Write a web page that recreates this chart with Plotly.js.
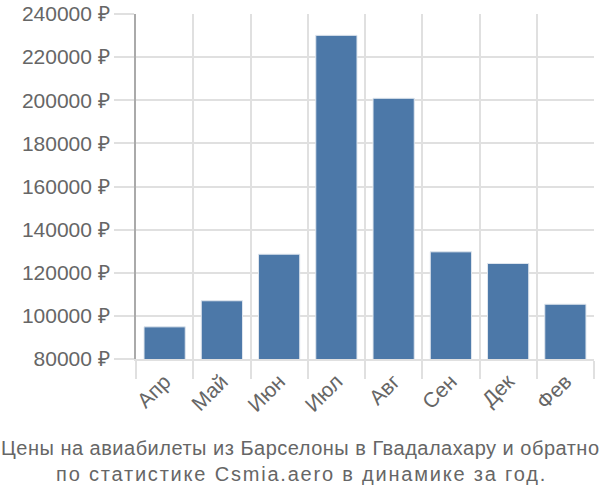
<!DOCTYPE html>
<html>
<head>
<meta charset="utf-8">
<script src="https://cdn.plot.ly/plotly-3.0.1.min.js"></script>
<style>html,body{margin:0;padding:0;background:#fff;}#chart{width:600px;height:500px;}</style>
</head>
<body>
<div id="chart"></div>
<script>
const months = ["Апр", "Май", "Июн", "Июл", "Авг", "Сен", "Дек", "Фев"];
const prices = [94900, 107000, 128600, 230100, 200900, 129700, 124300, 105400];
const yTicks = [80000, 100000, 120000, 140000, 160000, 180000, 200000, 220000, 240000];
const yTickLabels = yTicks.map(v => v + " ₽");
const titleLine1 = "Цены на авиабилеты из Барселоны в Гвадалахару и обратно";
const titleLine2 = "по статистике Csmia.aero в динамике за год.";

const trace = {
  type: "bar",
  x: months,
  y: prices,
  marker: {color: "#4c78a8", line: {color: "#dfe6ee", width: 1}},
  hoverinfo: "none"
};

const W = 600, H = 500, mL = 136, mR = 6, mT = 14, mB = 141;
const pw = W - mL - mR, ph = H - mT - mB;
const px2x = px => (px - mL) / pw;
const px2y = py => (H - mB - py) / ph;

const layout = {
  width: W, height: H,
  margin: {l: mL, r: mR, t: mT, b: mB},
  paper_bgcolor: "#fff", plot_bgcolor: "#fff",
  bargap: 0.28,
  showlegend: false,
  font: {family: "Liberation Sans, Arial, sans-serif", color: "#666"},
  annotations: [
    {text: '<span style="letter-spacing:0.5px">' + titleLine1 + '</span>',
     xref: "paper", yref: "paper", x: px2x(300), y: px2y(448),
     xanchor: "center", yanchor: "middle", showarrow: false,
     font: {size: 20, color: "#666"}},
    {text: '<span style="letter-spacing:1.8px">' + titleLine2 + '</span>',
     xref: "paper", yref: "paper", x: px2x(301), y: px2y(474),
     xanchor: "center", yanchor: "middle", showarrow: false,
     font: {size: 20, color: "#666"}}
  ],
  xaxis: {
    type: "category",
    tickson: "boundaries",
    ticks: "outside", ticklen: 18, tickcolor: "#e0e0e0", tickwidth: 2,
    showgrid: true, gridcolor: "#e0e0e0", gridwidth: 2,
    showline: true, linecolor: "#e0e0e0", linewidth: 2,
    tickangle: -45,
    tickfont: {size: 21, color: "#666"},
    fixedrange: true
  },
  yaxis: {
    range: [80000, 240000],
    tickvals: yTicks, ticktext: yTickLabels,
    ticks: "outside", ticklen: 20, tickcolor: "#e0e0e0", tickwidth: 2,
    showgrid: true, gridcolor: "#e0e0e0", gridwidth: 2,
    showline: true, linecolor: "#aaa", linewidth: 2,
    zeroline: false,
    tickfont: {size: 21, color: "#666"},
    fixedrange: true
  }
};

Plotly.newPlot("chart", [trace], layout, {displayModeBar: false, staticPlot: true});
</script>
</body>
</html>
